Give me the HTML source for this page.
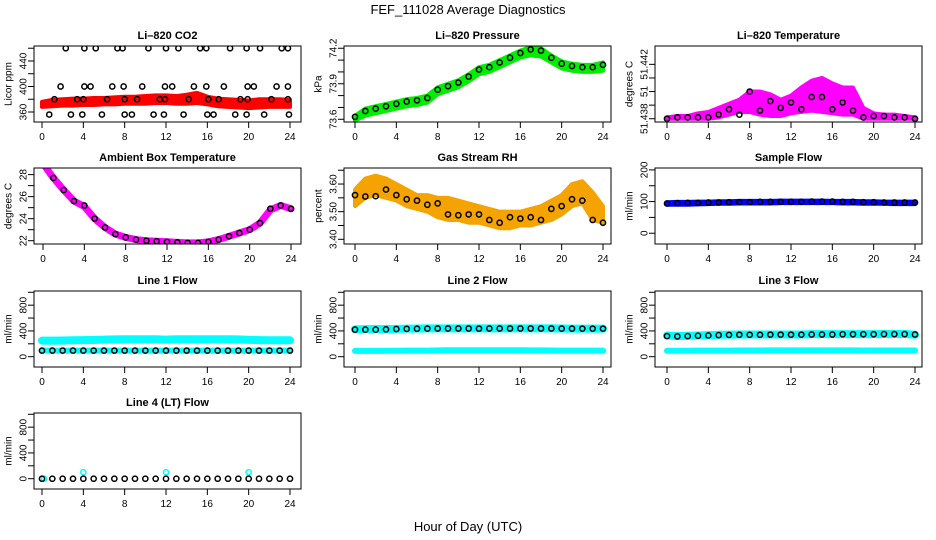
<!DOCTYPE html>
<html><head><meta charset="utf-8"><style>
body{margin:0;background:#fff}
svg{display:block;font-family:"Liberation Sans",sans-serif}
</style></head><body>
<svg id="chart" width="936" height="540" viewBox="0 0 936 540">
<text x="468" y="14" text-anchor="middle" font-size="13">FEF_111028  Average Diagnostics</text>
<text x="468" y="531" text-anchor="middle" font-size="13">Hour of Day (UTC)</text>
</svg>
<script>
const hours = [0,1,2,3,4,5,6,7,8,9,10,11,12,13,14,15,16,17,18,19,20,21,22,23,24];
const xTicks = [0,4,8,12,16,20,24];
// CO2
const co2Lo = [368,369,370,370,371,371,372,372,373,373,373,374,374,373,373,374,372,369,368,367,366,367,368,368,368];
const co2Hi = [376,379,380,381,381,382,382,383,384,384,385,386,386,385,387,390,384,381,380,379,378,380,380,380,379];
const co2BlackHours = [2.3,4.1,5.2,7.3,7.8,10.3,12.0,13.2,15.3,15.9,18.2,19.8,21.1,23.2,23.8, 1.8,4.1,4.7,6.8,7.9,9.7,11.9,12.6,14.7,15.9,17.6,19.9,20.5,22.7,23.8, 1.2,3.4,4.0,6.3,8.0,9.2,11.4,11.9,14.2,16.1,17.1,19.2,19.9,22.2,23.8, 0.7,2.8,3.9,5.8,8.0,8.7,10.8,11.8,13.7,16.0,16.6,18.7,19.8,21.5,23.9];
const co2BlackVals = [460,460,460,460,460,460,460,460,460,460,460,460,460,460,460, 400,400,400,400,400,400,400,400,400,400,400,400,400,400,400, 380,380,380,380,380,380,380,380,380,380,380,380,380,380,380, 356,356,356,356,356,356,356,356,356,356,356,356,356,356,356];
// Pressure
const presLo = [73.59,73.63,73.65,73.67,73.69,73.71,73.72,73.74,73.81,73.84,73.87,73.92,73.98,74.00,74.04,74.08,74.12,74.14,74.13,74.08,74.03,74.01,74.00,74.00,74.01];
const presHi = [73.63,73.69,73.71,73.73,73.75,73.77,73.78,73.80,73.87,73.90,73.93,73.98,74.04,74.06,74.10,74.14,74.18,74.21,74.20,74.14,74.09,74.07,74.06,74.06,74.08];
const presBlack = [73.62,73.67,73.69,73.71,73.73,73.75,73.76,73.78,73.85,73.88,73.91,73.96,74.02,74.04,74.08,74.12,74.16,74.19,74.18,74.12,74.07,74.05,74.04,74.04,74.06];
// Li-820 temperature
const tempLo = [51.4380,51.4380,51.4380,51.4380,51.4380,51.4381,51.4383,51.4385,51.4385,51.4383,51.4382,51.4382,51.4384,51.4385,51.4386,51.4385,51.4384,51.4383,51.4383,51.4380,51.4380,51.4380,51.4380,51.4380,51.4380];
const tempHi = [51.4381,51.4382,51.4382,51.4384,51.4385,51.4388,51.4391,51.4394,51.4400,51.4400,51.4398,51.4394,51.4397,51.4403,51.4408,51.4410,51.4406,51.4403,51.4403,51.4388,51.4384,51.4383,51.4383,51.4382,51.4381];
const tempBlack = [51.4380,51.4381,51.4381,51.4381,51.4381,51.4383,51.4387,51.4383,51.4400,51.4386,51.4393,51.4388,51.4392,51.4387,51.4396,51.4396,51.4387,51.4392,51.4386,51.4381,51.4382,51.4382,51.4381,51.4381,51.4380];
// Ambient box temperature
const ambMagenta = [29.0,27.7,26.6,25.6,25.1,24.0,23.2,22.6,22.3,22.1,22.0,21.95,21.9,21.85,21.8,21.8,21.9,22.1,22.4,22.7,23.0,23.6,24.8,25.2,24.9];
const ambBlack = [29.0,27.7,26.6,25.6,25.2,24.0,23.2,22.6,22.3,22.1,22.0,21.95,21.9,21.85,21.8,21.8,21.9,22.1,22.4,22.7,23.0,23.6,24.9,25.2,24.9];
// Gas stream RH
const rhLo = [3.52,3.55,3.56,3.55,3.54,3.52,3.51,3.50,3.48,3.47,3.47,3.46,3.46,3.45,3.44,3.44,3.45,3.45,3.46,3.47,3.49,3.52,3.53,3.47,3.46];
const rhHi = [3.58,3.62,3.63,3.62,3.60,3.58,3.56,3.56,3.55,3.55,3.54,3.53,3.52,3.51,3.50,3.50,3.50,3.51,3.52,3.54,3.56,3.60,3.61,3.57,3.52];
const rhBlack = [3.56,3.555,3.556,3.58,3.56,3.545,3.54,3.525,3.53,3.49,3.487,3.49,3.49,3.47,3.46,3.48,3.475,3.48,3.47,3.51,3.52,3.545,3.54,3.47,3.46];
// Sample flow
const sampLo = [90,90,90,91,92,93,93,94,94,94,94,95,95,95,95,95,95,94,94,93,93,93,92,92,92];
const sampHi = [98,99,99,100,100,101,101,102,102,102,102,103,103,103,103,103,102,102,102,101,101,100,100,100,100];
const sampBlack = [94,95,96,96,97,97,98,98,98,99,99,99,99,99,100,100,100,99,99,98,98,97,97,97,97];
// Line flows
const l1CyanHi = [250,250,252,255,258,260,265,268,270,270,270,270,265,270,270,270,270,270,270,268,262,258,255,255,255];
const l1CyanLo = [95,95,95,95,95,95,95,95,95,95,95,95,95,95,95,95,95,95,95,95,95,95,95,95,95];
const l1Black = [95,95,95,95,95,95,95,95,95,95,95,95,95,95,95,95,95,95,95,95,95,95,95,95,95];
const l2CyanHi = [425,428,430,430,432,435,438,440,440,440,440,440,440,440,440,440,440,440,440,440,438,436,435,435,435];
const l2CyanLo = [90,90,90,92,92,95,95,95,98,100,100,100,100,100,100,100,100,98,98,96,95,95,95,95,95];
const l2Black = [420,420,420,425,430,432,434,436,438,438,438,438,436,438,438,438,438,438,438,438,436,436,435,435,435];
const l3CyanHi = [330,320,325,330,335,340,342,345,345,345,345,345,345,345,350,350,350,350,350,350,350,352,352,352,340];
const l3CyanLo = [92,92,92,94,94,95,95,96,96,96,98,98,98,98,98,98,98,98,98,96,96,96,96,96,96];
const l3Black = [320,315,320,325,330,335,338,340,340,340,342,342,342,342,345,345,345,348,348,348,348,350,350,350,345];
const l4Black = [0,0,0,0,0,0,0,0,0,0,0,0,0,0,0,0,0,0,0,0,0,0,0,0,0];
const l4CyanHours = [0,0.2,4,12,20];
const l4CyanVals = [0,0,100,100,100];

const NS = 'http://www.w3.org/2000/svg';
const svg = document.getElementById('chart');
function mk(tag, attrs, parent){const e=document.createElementNS(NS,tag);for(const k in attrs)e.setAttribute(k,attrs[k]);(parent||svg).appendChild(e);return e;}

const W=267,H=76;
const panels = [
 {id:'li820-co2',title:'Li–820 CO2',ylab:'Licor ppm',left:34,top:46,xoff:8,dom:[344.3,463.5],ticks:[360,380,400,420,440,460],labels:{360:'360',400:'400',440:'440'},
  bands:[[co2Lo,co2Hi,'#ff0000']],circles:[[co2BlackHours,co2BlackVals,'#000']]},
 {id:'li820-pressure',title:'Li–820 Pressure',ylab:'kPa',left:344,top:46,xoff:11,dom:[73.577,74.219],ticks:[73.6,73.7,73.8,73.9,74.0,74.1,74.2],labels:{'73.6':'73.6','73.9':'73.9','74.2':'74.2'},
  bands:[[presLo,presHi,'#00ee00']],circles:[[hours,presBlack,'#000']]},
 {id:'li820-temperature',title:'Li–820 Temperature',ylab:'degrees C',left:655,top:46,xoff:12,dom:[51.43776,51.44335],ticks:[51.438,51.439,51.440,51.441,51.442],labels:{'51.438':'51.438','51.44':'51','51.442':'51.442'},
  bands:[[tempLo,tempHi,'#ff00ff']],circles:[[hours,tempBlack,'#000']]},
 {id:'ambient-box-temperature',title:'Ambient Box Temperature',ylab:'degrees C',left:34,top:168,xoff:9,dom:[21.7,28.6],ticks:[22,23,24,25,26,27,28],labels:{22:'22',24:'24',26:'26',28:'28'},
  lines:[[ambMagenta,'#ff00ff',7]],circles:[[hours,ambBlack,'#000']]},
 {id:'gas-stream-rh',title:'Gas Stream RH',ylab:'percent',left:344,top:168,xoff:11,dom:[3.383,3.658],ticks:[3.40,3.45,3.50,3.55,3.60,3.65],labels:{'3.4':'3.40','3.5':'3.50','3.6':'3.60'},
  bands:[[rhLo,rhHi,'#f4a300']],circles:[[hours,rhBlack,'#000']]},
 {id:'sample-flow',title:'Sample Flow',ylab:'ml/min',left:655,top:168,xoff:12,dom:[-34,206],ticks:[0,50,100,150,200],labels:{0:'0',100:'100',200:'200'},
  bands:[[sampLo,sampHi,'#0000ff']],circles:[[hours,sampBlack,'#000']]},
 {id:'line1-flow',title:'Line 1 Flow',ylab:'ml/min',left:34,top:291,xoff:8,dom:[-160,1020],ticks:[0,200,400,600,800,1000],labels:{0:'0',400:'400',800:'800'},
  lines:[[l1CyanHi,'#00ffff',8],[l1CyanLo,'#00ffff',6]],circles:[[hours,l1Black,'#000']]},
 {id:'line2-flow',title:'Line 2 Flow',ylab:'ml/min',left:344,top:291,xoff:11,dom:[-160,1020],ticks:[0,200,400,600,800,1000],labels:{0:'0',400:'400',800:'800'},
  lines:[[l2CyanHi,'#00ffff',8],[l2CyanLo,'#00ffff',6]],circles:[[hours,l2Black,'#000']]},
 {id:'line3-flow',title:'Line 3 Flow',ylab:'ml/min',left:655,top:291,xoff:12,dom:[-160,1020],ticks:[0,200,400,600,800,1000],labels:{0:'0',400:'400',800:'800'},
  lines:[[l3CyanHi,'#00ffff',8],[l3CyanLo,'#00ffff',6]],circles:[[hours,l3Black,'#000']]},
 {id:'line4-flow',title:'Line 4 (LT) Flow',ylab:'ml/min',left:34,top:413,xoff:8,dom:[-160,1020],ticks:[0,200,400,600,800,1000],labels:{0:'0',400:'400',800:'800'},
  circles:[[l4CyanHours,l4CyanVals,'#00ffff'],[hours,l4Black,'#000']]}
];

panels.forEach(p=>{
  const g=mk('g',{});
  
  
  const xs=h=>p.left+p.xoff+h*(248/24);
  const ys=v=>p.top+H-(v-p.dom[0])/(p.dom[1]-p.dom[0])*H;
  const t=mk('text',{x:p.left+W/2,y:p.top-7,'text-anchor':'middle','font-size':11,'font-weight':'bold'},g);
  t.textContent=p.title;
  
  
  const clip='clip-'+p.id;
  const cp=mk('clipPath',{id:clip},g);mk('rect',{x:p.left,y:p.top,width:W,height:H},cp);
  const dg=mk('g',{'clip-path':'url(#'+clip+')'},g);
  (p.bands||[]).forEach(([lo,hi,c])=>{
    const pts=hours.map((h,i)=>xs(h)+','+ys(hi[i])).concat(hours.slice().reverse().map((h,j)=>{const i=hours.length-1-j;return xs(h)+','+ys(lo[i]);}));
    const e=mk('polygon',{points:pts.join(' '),fill:c,stroke:c,'stroke-width':4,'stroke-linejoin':'round'},dg);
    
    
  });
  (p.lines||[]).forEach(([vals,c,w])=>{
    const e=mk('polyline',{points:hours.map((h,i)=>xs(h)+','+ys(vals[i])).join(' '),fill:'none',stroke:c,'stroke-width':w,'stroke-linejoin':'round','stroke-linecap':'round'},dg);
    
    
  });
  (p.circles||[]).forEach(([hs,vals,c])=>{
    hs.forEach((h,i)=>{
      const e=mk('circle',{cx:xs(h),cy:ys(vals[i]),r:2.6,fill:'none',stroke:c,'stroke-width':1.5},dg);
      
      
    });
  });
  const box=mk('rect',{x:p.left,y:p.top,width:W,height:H,fill:'none',stroke:'#000','stroke-width':1},g);
  
  
  xTicks.forEach(v=>{
    mk('line',{x1:xs(v),x2:xs(v),y1:p.top+H,y2:p.top+H+6,stroke:'#000'},g);
    const l=mk('text',{x:xs(v),y:p.top+H+18,'text-anchor':'middle','font-size':10},g);
    l.textContent=v;
    
    
  });
  p.ticks.forEach(v=>{
    const y=ys(v);
    mk('line',{x1:p.left-6,x2:p.left,y1:y,y2:y,stroke:'#000'},g);
    const key=String(+v.toFixed(4));
    if(p.labels[key]!==undefined){
      const l=mk('text',{x:p.left-10,y:y,'text-anchor':'middle','font-size':10,transform:'rotate(-90 '+(p.left-10)+' '+y+')','dominant-baseline':'middle'},g);
      l.textContent=p.labels[key];
      
      
    }
  });
  const yl=mk('text',{x:p.left-25,y:p.top+H/2,'text-anchor':'middle','font-size':10,transform:'rotate(-90 '+(p.left-25)+' '+(p.top+H/2)+')','dominant-baseline':'middle'},g);
  yl.textContent=p.ylab;
  
  
});
</script>
</body></html>
